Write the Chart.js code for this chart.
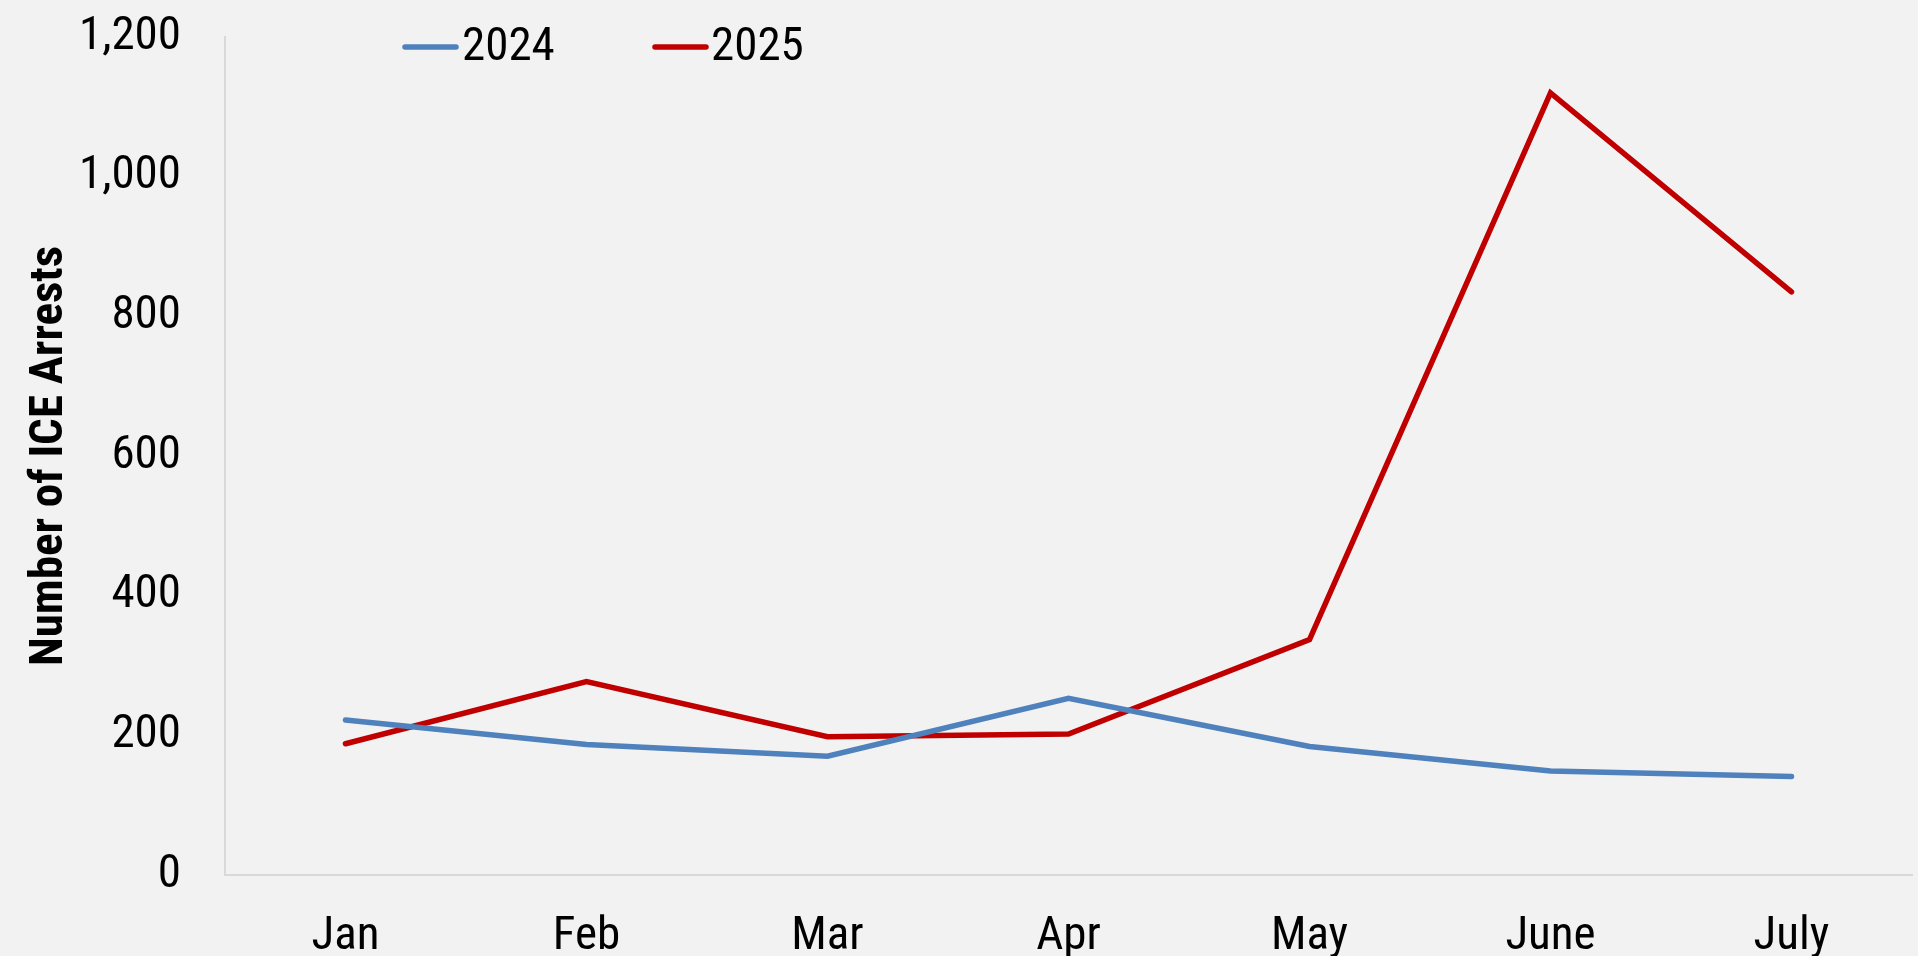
<!DOCTYPE html>
<html>
<head>
<meta charset="utf-8">
<script src="https://cdn.jsdelivr.net/npm/chart.js@4/dist/chart.umd.min.js"></script>
<style>
html,body{margin:0;padding:0;background:#F2F2F2;overflow:hidden;}
#wrap{width:1918px;height:956px;position:relative;}
</style>
</head>
<body>
<div id="wrap"><canvas id="c" width="1918" height="956"></canvas></div>
<script>
const categories = ["Jan", "Feb", "Mar", "Apr", "May", "June", "July"];
const arrests2024 = [222, 187, 170, 253, 184, 149, 141];
const arrests2025 = [188, 277, 198, 202, 337, 1120, 835];
const seriesLabels = ["2024", "2025"];
const yTickValues = [0, 200, 400, 600, 800, 1000, 1200];

const FONT = "'Roboto Condensed', 'Liberation Sans Narrow', 'DejaVu Sans Condensed', sans-serif";
const FS = 47;
const COLORS = ["#4F81BD", "#C00000"];

const legendPlugin = {
  id: 'customLegend',
  afterDraw(chart) {
    const ctx = chart.ctx;
    const items = [
      {x1: 405, x2: 456, tx: 462},
      {x1: 655, x2: 706, tx: 711}
    ];
    const y = 47;
    ctx.save();
    chart.data.datasets.forEach((ds, i) => {
      const it = items[i];
      ctx.strokeStyle = ds.borderColor;
      ctx.lineWidth = 5.5;
      ctx.lineCap = 'round';
      ctx.beginPath();
      ctx.moveTo(it.x1, y);
      ctx.lineTo(it.x2, y);
      ctx.stroke();
      ctx.fillStyle = '#000';
      ctx.font = FS + "px " + FONT;
      ctx.textAlign = 'left';
      ctx.textBaseline = 'middle';
      ctx.fillText(ds.label, it.tx, y + 1);
    });
    ctx.restore();
  }
};

new Chart(document.getElementById('c'), {
  type: 'line',
  data: {
    labels: categories,
    datasets: [
      {label: seriesLabels[0], data: arrests2024, borderColor: COLORS[0], backgroundColor: COLORS[0],
       borderWidth: 5.5, pointRadius: 0, tension: 0, borderCapStyle: 'round', fill: false},
      {label: seriesLabels[1], data: arrests2025, borderColor: COLORS[1], backgroundColor: COLORS[1],
       borderWidth: 5.5, pointRadius: 0, tension: 0, borderCapStyle: 'round', fill: false}
    ]
  },
  options: {
    responsive: false,
    animation: false,
    devicePixelRatio: 1,
    layout: {padding: {top: 37, right: 6, left: 0, bottom: 0}},
    plugins: {
      legend: {display: false},
      tooltip: {enabled: false}
    },
    scales: {
      x: {
        type: 'category',
        offset: true,
        grid: {display: false, drawTicks: false},
        border: {display: true, color: '#D9D9D9', width: 2},
        ticks: {color: '#000', font: {family: FONT, size: FS}, padding: 34, maxRotation: 0, autoSkip: false},
        afterFit(scale) { scale.height = 81; scale.paddingLeft = 0; scale.paddingRight = 0; }
      },
      y: {
        min: 0,
        max: 1200,
        afterBuildTicks(scale) { scale.ticks = yTickValues.map(v => ({value: v})); },
        grid: {display: false, drawTicks: false},
        border: {display: true, color: '#D9D9D9', width: 2},
        ticks: {
          color: '#000',
          font: {family: FONT, size: FS},
          padding: 44,
          callback: v => v.toLocaleString('en-US')
        },
        title: {
          display: true,
          text: 'Number of ICE Arrests',
          color: '#000',
          font: {family: FONT, size: FS, weight: 'bold'},
          padding: {top: 22, bottom: 0}
        },
        afterFit(scale) { scale.width = 225; scale.paddingTop = 0; scale.paddingBottom = 0; }
      }
    }
  },
  plugins: [legendPlugin]
});
</script>
</body>
</html>
